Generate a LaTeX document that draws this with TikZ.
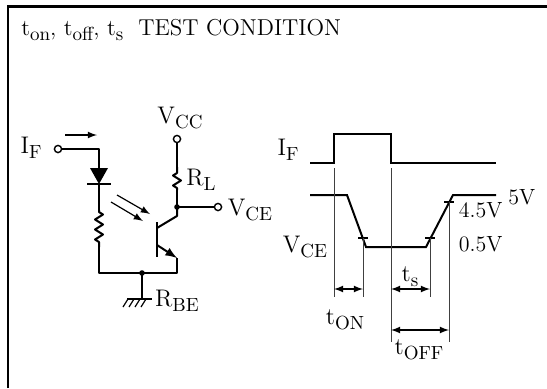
\documentclass[tikz,border=0pt]{standalone}
\usepackage{amsmath}
\usetikzlibrary{arrows,positioning,decorations.pathmorphing}
\tikzset{
  wire/.style  = {line width=1pt, line join=round},
  wave/.style  = {line width=1pt, line join=miter},
  guide/.style = {line width=0.5pt, black!75},
  term/.style  = {circle, draw, line width=0.7pt, fill=white, inner sep=0pt, minimum size=3.6pt},
  jdot/.style  = {circle, fill, inner sep=0pt, minimum size=2.8pt},
  res/.style   = {wire, decorate, decoration={zigzag, segment length=5pt, amplitude=2pt, pre length=1pt, post length=1pt}},
  dim/.style   = {<->, line width=0.6pt},
  lbl/.style   = {inner sep=1pt, font=\fontsize{12}{14}\selectfont},
  volt/.style  = {lbl, font=\fontsize{11}{13}\selectfont}
}
\newcommand{\sub}[2]{#1\raisebox{-0.45ex}{\fontsize{9.5}{10}\selectfont #2}}

\begin{document}
\begin{tikzpicture}[x=0.5pt, y=-0.5pt, >=latex]
\useasboundingbox (0,0) rectangle (547,388);

% frame
\draw[line width=1.1pt] (8,388) -- (8,6.5) -- (547,6.5);
\node[lbl, anchor=west, font=\fontsize{11.5}{14}\selectfont] (title) at (19,30)
  {\sub{t}{on}, \sub{t}{off}, \sub{t}{s}\ \ TEST CONDITION};

% circuit, input side
\coordinate (ifin) at (58,149);
\coordinate (dcor) at (99,149);
\coordinate (dtop) at (99,168);
\coordinate (dbot) at (99,184);
\coordinate (rbtop) at (99,210);
\coordinate (rbbot) at (99,247);
\coordinate (bl) at (99,273);
\coordinate (gj) at (142,273);
\coordinate (br) at (177,273);
\coordinate (gnd) at (142,299);

% circuit, output side
\coordinate (bartop) at (157,222);
\coordinate (barbot) at (157,257);
\coordinate (cbase) at (157,228);
\coordinate (ebase) at (157,245);
\coordinate (ccor) at (177,216);
\coordinate (emit) at (177,258);
\coordinate (cj) at (177,207);
\coordinate (rlbot) at (177,190);
\coordinate (rltop) at (177,167);
\coordinate (vcc) at (177,139);
\coordinate (vce) at (218,207);

\draw[wire] (ifin) -- (dcor) -- (dtop);
\fill ([xshift=-4.5pt]dtop) -- ([xshift=4.5pt]dtop) -- (dbot) -- cycle;
\draw[wire] ([xshift=-6pt]dbot) -- ([xshift=6pt]dbot);
\draw[wire] (dbot) -- (rbtop);
\draw[res] (rbtop) -- (rbbot);
\draw[wire] (rbbot) -- (bl) -- (br) -- (emit);
\draw[wire] (gj) -- (gnd);
\draw[wire] ([xshift=-7.5pt]gnd) -- ([xshift=5pt]gnd);
\foreach \dx in {-7,-4,-1,2}
  \draw[line width=0.6pt] ([xshift=\dx pt]gnd) -- ([xshift=\dx pt - 2.5pt, yshift=-4pt]gnd);

\draw[line width=1.4pt] (bartop) -- (barbot);
\draw[wire] (cbase) -- (ccor) -- (cj);
\draw[wire, ->] (ebase) -- (emit);
\draw[wire] (cj) -- (rlbot);
\draw[res] (rlbot) -- (rltop);
\draw[wire] (rltop) -- (vcc);
\draw[wire] (cj) -- (vce);

% light and current arrows
\draw[->, line width=0.6pt] (117,195) -- (150,214);
\draw[->, line width=0.6pt] (111,202) -- (143,221);
\draw[->, line width=0.6pt] (65,135) -- (97,135);

\node[term] (tif) at (ifin) {};
\node[term] (tvcc) at (vcc) {};
\node[term] (tvce) at (vce) {};
\node[jdot] (jc) at (cj) {};
\node[jdot] (jg) at (gj) {};

% waveforms
\draw[wave] (310,163) -- (334,163) -- (334,134) -- (391,134) -- (391,163) -- (496,163);
\draw[wave] (310,195) -- (347,195) -- (366,247) -- (426,247) -- (453,195) -- (496,195);

\coordinate (ton1) at (334,168);
\coordinate (ton2) at (363,238);
\coordinate (toff1) at (391,168);
\coordinate (ts2) at (430,238);
\coordinate (toff2) at (449,202);
\foreach \c in {ton2,ts2,toff2}
  \draw[line width=0.6pt] ([xshift=-2.5pt]\c) -- ([xshift=2.5pt]\c);

\draw[guide] (ton1) -- (334,297);
\draw[guide] (ton2) -- (363,297);
\draw[guide] (toff1) -- (391,342);
\draw[guide] (ts2) -- (430,297);
\draw[guide] (toff2) -- (449,342);

\draw[dim] (334,289) -- (363,289);
\draw[dim] (391,289) -- (430,289);
\draw[dim] (391,330) -- (449,330);

% labels
\begin{scope}[every node/.style={lbl}]
\node (lif) at (31,148) {\sub{I}{F}};
\node (lvcc) at (180,118) {\sub{V}{CC}};
\node (lrl) at (201,180) {\sub{R}{L}};
\node (lvce) at (250,210) {\sub{V}{CE}};
\node (lrbe) at (177,301) {\sub{R}{BE}};

\node (wif) at (288,150) {\sub{I}{F}};
\node (wvce) at (305,247) {\sub{V}{CE}};
\node[volt, anchor=east] (v45) at (505,210) {4.5V};
\node[volt, anchor=west] (v5) at (506,197) {5V};
\node[volt, anchor=east] (v05) at (505,244) {0.5V};
\node (lts) at (410,277) {\sub{t}{s}};
\node (lton) at (345,320) {\sub{t}{ON}};
\node (ltoff) at (419,350) {\sub{t}{OFF}};
\end{scope}
\end{tikzpicture}
\end{document}
